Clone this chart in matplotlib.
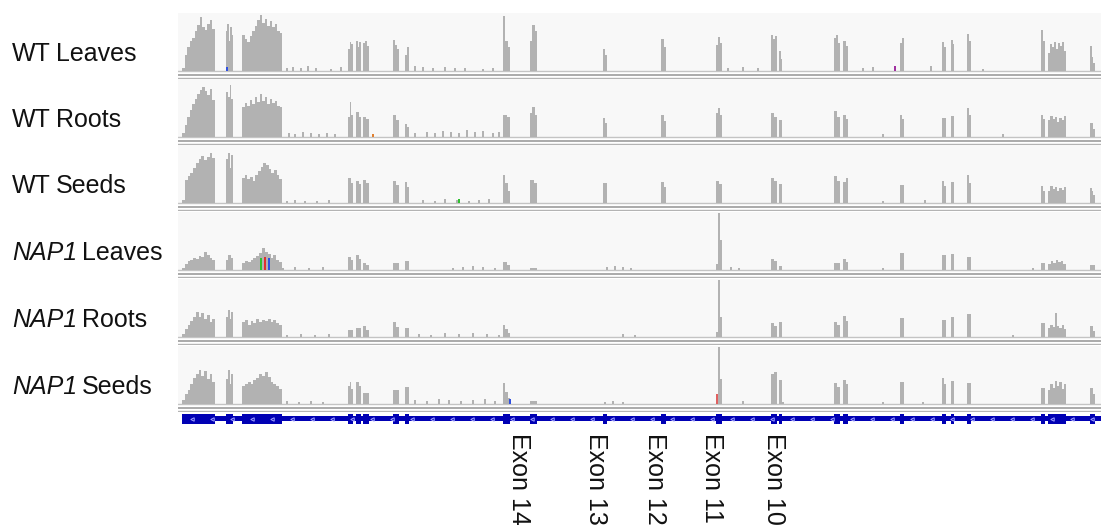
import numpy as np
import matplotlib.pyplot as plt
from matplotlib.transforms import blended_transform_factory

plt.rcParams['font.family'] = ['Liberation Sans', 'DejaVu Sans']

# ------------------------------------------------------------
#   DATA  (positions along the locus, coverage per exon)
# ------------------------------------------------------------
track_genotype = ["WT", "WT", "WT", "NAP1", "NAP1", "NAP1"]
track_tissue = ["Leaves", "Roots", "Seeds", "Leaves", "Roots", "Seeds"]

exon_start = [0, 44, 60, 166, 174, 181, 211, 223, 321, 348, 421, 479,
              534, 589, 597, 652, 661, 718, 760, 769, 785, 859, 866, 908]
exon_end = [33, 51, 100, 171, 179, 187, 217, 227, 328, 355, 425, 484,
            540, 595, 600, 658, 666, 722, 764, 772, 789, 863, 884, 913]

# coverage profile over each exon (left -> right)
cov_wt_leaves = [
    [3, 16, 24, 30, 33, 40, 46, 54, 44, 41, 47, 51, 42],
    [40, 47, 30, 44, 36],
    [36, 32, 29, 35, 40, 45, 51, 56, 48, 52, 45, 50, 44, 47, 40, 38],
    [22, 29, 27], [30, 24, 29], [28, 30, 25], [31, 26, 22], [16, 24],
    [55, 30, 24], [30, 46, 40], [22, 16], [32, 24], [26, 34, 28],
    [36, 32, 35], [20, 12], [33, 36, 28], [30, 25], [28, 33], [29, 24],
    [31, 27], [37, 30], [41, 30], [18, 27, 24, 29, 22, 28, 25, 29, 20],
    [25, 14, 8]]
cov_wt_roots = [
    [4, 12, 20, 27, 33, 38, 43, 47, 50, 46, 42, 48, 37],
    [45, 40, 52, 38],
    [30, 34, 31, 37, 33, 40, 35, 43, 36, 40, 33, 38, 34, 36, 31, 30],
    [20, 35, 22], [25, 20], [20, 18], [22, 17], [13, 10],
    [22, 20], [24, 30, 22], [19, 14], [22, 16], [24, 29, 22],
    [24, 20], [17], [26, 20], [22, 18], [22, 18], [19],
    [21], [29, 22], [22, 18], [17, 21, 18, 20, 15, 19, 17, 21],
    [14, 8]]
cov_wt_seeds = [
    [3, 23, 27, 30, 35, 40, 44, 47, 43, 46, 50, 45],
    [44, 50, 35, 48],
    [25, 28, 24, 26, 22, 28, 32, 36, 40, 38, 34, 30, 33, 28, 24],
    [25, 20], [22, 19], [23, 20], [22, 18], [21, 16],
    [28, 20, 12], [23, 20], [20], [21, 16], [22, 19],
    [25, 22], [19], [27, 22], [21, 25], [18], [22, 17],
    [21], [28, 20], [17, 12], [12, 17, 14, 16, 12, 15, 13, 16],
    [15, 12, 8]]
cov_nap1_leaves = [
    [2, 6, 9, 10, 12, 11, 14, 13, 18, 15, 12, 10],
    [10, 15, 12],
    [7, 9, 8, 10, 12, 14, 17, 22, 18, 16, 12, 15, 10, 8],
    [13, 10], [15, 11], [7, 5], [7], [9],
    [8, 5], [2], [0], [0], [6, 57, 30],
    [11, 9], [4], [7], [11, 8], [17], [15],
    [16], [13], [7], [6, 9, 7, 10, 8, 9, 6],
    [5]]
cov_nap1_roots = [
    [3, 8, 12, 16, 20, 25, 20, 24, 18, 22, 15, 18],
    [20, 27, 18, 25],
    [15, 17, 12, 16, 14, 18, 15, 17, 16, 18, 15, 17, 14, 12],
    [7], [9], [11, 7], [15, 10], [9],
    [12, 8, 4], [0], [0], [0], [5, 57, 20],
    [14, 11], [15], [15, 12], [21, 16], [19], [17],
    [20], [23], [14], [9, 12, 10, 24, 11, 9, 12, 8],
    [11, 6]]
cov_nap1_seeds = [
    [4, 10, 14, 20, 26, 30, 34, 28, 33, 25, 30, 22],
    [25, 34, 20, 30],
    [18, 20, 22, 20, 24, 26, 30, 28, 32, 27, 22, 20, 18, 15],
    [18, 22, 15], [22, 18], [11], [14], [17],
    [21, 12, 6], [3], [0], [0], [10, 57, 25],
    [30, 32], [24], [21, 17], [24, 20], [22], [26, 20],
    [23], [21], [16], [14, 20, 16, 23, 18, 22, 15, 20],
    [16, 10]]
tracks = [cov_wt_leaves, cov_wt_roots, cov_wt_seeds,
          cov_nap1_leaves, cov_nap1_roots, cov_nap1_seeds]

# low intronic reads
noise_pos = [
    [104, 110, 118, 125, 133, 148, 158, 232, 240, 250, 262, 272, 282, 300, 310, 545, 560, 575, 680, 690, 748, 800],
    [106, 112, 120, 128, 136, 144, 152, 232, 244, 252, 260, 268, 276, 284, 292, 300, 310, 316, 700, 820],
    [104, 112, 122, 134, 146, 240, 252, 262, 274, 286, 296, 306, 700, 742, 880],
    [100, 112, 126, 140, 270, 280, 290, 300, 312, 424, 432, 440, 448, 548, 556, 700, 850],
    [104, 118, 132, 146, 236, 248, 262, 276, 290, 304, 316, 440, 452, 830],
    [104, 116, 128, 140, 232, 244, 256, 266, 278, 290, 302, 312, 422, 430, 440, 560, 600, 700, 740]]
noise_height = [
    [3, 4, 3, 5, 3, 2, 4, 5, 4, 3, 4, 3, 3, 2, 3, 3, 4, 3, 3, 4, 5, 2],
    [4, 3, 5, 4, 3, 4, 3, 4, 5, 4, 6, 5, 4, 7, 5, 6, 4, 5, 3, 3],
    [2, 3, 2, 2, 3, 3, 2, 4, 3, 2, 3, 4, 2, 3, 2],
    [2, 3, 2, 3, 2, 3, 4, 3, 2, 3, 4, 3, 2, 3, 2, 2, 2],
    [2, 3, 2, 3, 3, 2, 4, 3, 4, 3, 2, 3, 2, 2],
    [3, 2, 3, 2, 4, 3, 5, 4, 3, 4, 5, 3, 2, 3, 2, 3, 2, 2, 2]]

# mismatch-coloured positions
mm_track = [0, 3, 3, 3, 5, 5, 1, 2, 0]
mm_pos = [44, 78, 82, 86, 534, 327, 190, 276, 712]
mm_height = [4, 12, 13, 12, 10, 5, 3, 4, 5]
mm_color = ["#3050e0", "#30c030", "#e03030", "#3050e0", "#e06060", "#3050e0", "#e08030", "#30c030", "#a030a0"]

exon_label_names = ["Exon 14", "Exon 13", "Exon 12", "Exon 11", "Exon 10"]
exon_label_pos = [337, 414, 473, 530, 592]

# ------------------------------------------------------------
#   FIGURE
# ------------------------------------------------------------
W, H = 1101, 525
fig = plt.figure(figsize=(W / 100, H / 100), dpi=100)
fig.patch.set_facecolor("white")
renderer = fig.canvas.get_renderer()

COV = "#b2b2b2"
XLIM = (-4, 919)
FS = 18
baselines = [71, 137, 203, 270, 337, 404]


def px_axes(x0, y0, x1, y1):
    # box in pixels, y measured from the top
    return fig.add_axes([x0 / W, 1 - y1 / H, (x1 - x0) / W, (y1 - y0) / H])


for i, (base, cov) in enumerate(zip(baselines, tracks)):
    ax = px_axes(178, base - 58, W, base + 8)
    ax.set_xlim(*XLIM)
    ax.set_ylim(-8, 58)
    ax.axis("off")
    ax.axhspan(-1, 58, color="#f8f8f8", lw=0, zorder=0)
    ax.axhline(0, color="#c4c4c4", lw=1, zorder=1)
    ax.axhline(-4, color="#a4a4a4", lw=1.3, zorder=1)
    ax.axhline(-6.6, color="#b4b4b4", lw=1.0, zorder=1)

    for s, e, prof in zip(exon_start, exon_end, cov):
        w = (e - s) / len(prof)
        ax.bar(s + w * np.arange(len(prof)), prof, width=w, align="edge",
               color=COV, linewidth=0, zorder=2)
    ax.bar(noise_pos[i], noise_height[i], width=2, align="edge",
           color=COV, linewidth=0, zorder=2)

    for t, p, h, c in zip(mm_track, mm_pos, mm_height, mm_color):
        if t == i:
            ax.bar(p, h, width=1.5, align="edge", color=c, linewidth=0, zorder=3)

    # label: genotype (italic for the mutant) + tissue
    y = 1 - (base - 17) / H
    italic = track_genotype[i] != "WT"
    t1 = fig.text(12 / W, y, track_genotype[i], ha="left", va="center", fontsize=FS,
                  style="italic" if italic else "normal", color="#111111")
    bb = t1.get_window_extent(renderer)
    fig.text((bb.x1 + 5) / W, y, track_tissue[i], ha="left", va="center",
             fontsize=FS, color="#111111")

# gene model
gax = px_axes(178, 410, W, 428)
gax.set_xlim(*XLIM)
gax.set_ylim(0, 18)
gax.axis("off")
gax.broken_barh([(0, 919)], (7, 5), facecolors="#0000b4", zorder=1)
gax.broken_barh([(s, e - s) for s, e in zip(exon_start, exon_end)], (4.5, 9.5),
                facecolors="#0000b4", zorder=2)
chev = np.arange(10, 919, 20)
gax.plot(chev, np.full(len(chev), 9.5), ls="none", marker="<", ms=2.5,
         mfc="none", mec="#a0a0ff", mew=0.7, zorder=3)

trans = blended_transform_factory(gax.transData, fig.transFigure)
for name, pos in zip(exon_label_names, exon_label_pos):
    gax.text(pos, 1 - 433 / H, name, transform=trans, rotation=270,
             ha="center", va="top", fontsize=FS, color="#111111", clip_on=False)

fig.savefig("out.png", dpi=100, facecolor="white")
